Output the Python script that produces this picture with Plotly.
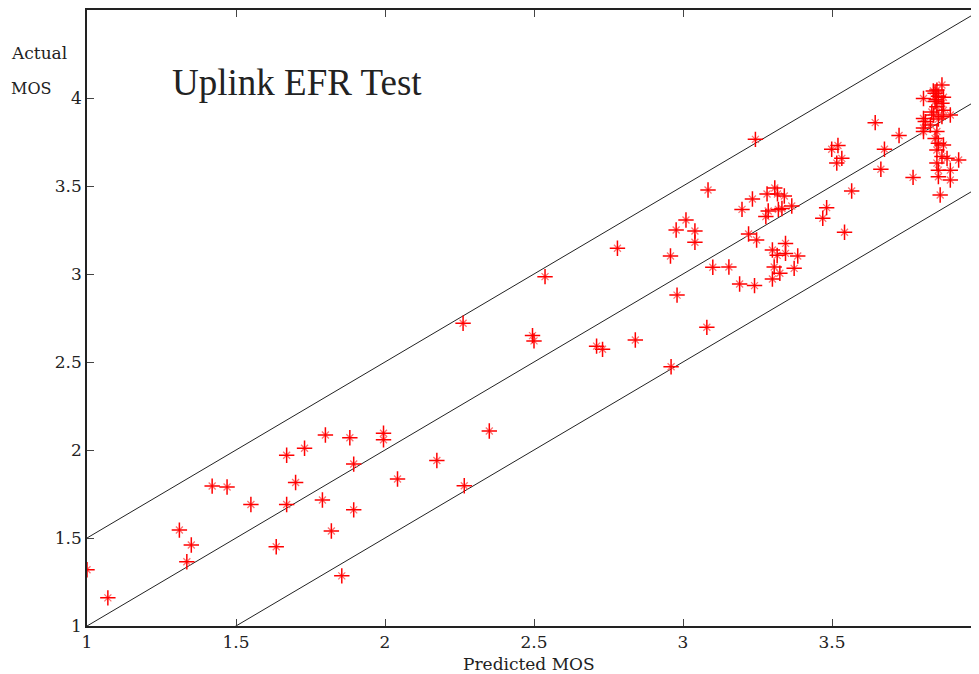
import plotly.graph_objects as go

# predicted vs actual MOS
predicted = [
    1.00, 1.07, 1.31, 1.35, 1.335, 1.42, 1.47, 1.55, 1.635, 1.67, 1.67, 1.70, 1.73,
    1.79, 1.80, 1.82, 1.855, 1.882, 1.895, 1.895, 1.995, 1.995, 2.042, 2.174, 2.266,
    2.35, 2.262, 2.495, 2.50, 2.537, 2.78, 2.71, 2.73, 2.84, 2.96, 2.958, 2.977,
    3.01, 3.04, 3.04, 2.98, 3.08, 3.10, 3.154, 3.19, 3.24, 3.22, 3.247, 3.243,
    3.084, 3.198, 3.233, 3.282, 3.308, 3.317, 3.34, 3.286, 3.278, 3.32, 3.332,
    3.365, 3.30, 3.344, 3.316, 3.344, 3.385, 3.306, 3.325, 3.30, 3.373, 3.482,
    3.469, 3.542, 3.566, 3.499, 3.52, 3.533, 3.516, 3.645, 3.725, 3.676, 3.664,
    3.772, 3.869, 3.852, 3.807, 3.846, 3.857, 3.874, 3.846, 3.869, 3.852, 3.874,
    3.807, 3.813, 3.841, 3.869, 3.897, 3.857, 3.83, 3.807, 3.852, 3.846, 3.857,
    3.874, 3.852, 3.869, 3.886, 3.925, 3.852, 3.897, 3.857, 3.857, 3.897, 3.863,
    3.807, 3.84, 3.85, 3.835,
]
actual = [
    1.32, 1.16, 1.545, 1.46, 1.365, 1.795, 1.79, 1.69, 1.45, 1.97, 1.69, 1.815, 2.01,
    1.716, 2.085, 1.54, 1.285, 2.07, 1.92, 1.66, 2.095, 2.058, 1.835, 1.94, 1.797,
    2.108, 2.72, 2.65, 2.62, 2.985, 3.146, 2.59, 2.572, 2.625, 2.473, 3.102, 3.25,
    3.307, 3.244, 3.18, 2.88, 2.697, 3.038, 3.04, 2.943, 2.934, 3.227, 3.193, 3.765,
    3.477, 3.367, 3.426, 3.455, 3.489, 3.455, 3.443, 3.358, 3.326, 3.367, 3.372,
    3.386, 3.136, 3.174, 3.106, 3.117, 3.102, 3.04, 3.004, 2.972, 3.032, 3.377,
    3.317, 3.237, 3.472, 3.709, 3.73, 3.657, 3.63, 3.86, 3.787, 3.709, 3.595,
    3.549, 4.074, 4.045, 3.997, 4.027, 4.01, 4.004, 3.98, 3.97, 3.95, 3.93,
    3.884, 3.866, 3.903, 3.894, 3.903, 3.88, 3.847, 3.81, 3.81, 3.77, 3.743,
    3.733, 3.705, 3.667, 3.657, 3.648, 3.63, 3.59, 3.59, 3.553, 3.534, 3.449,
    3.83, 4.04, 3.99, 3.92,
]

line_x = [1, 4]
offsets = [0.5, 0, -0.5]

x_ticks = [1, 1.5, 2, 2.5, 3, 3.5]
y_ticks = [1, 1.5, 2, 2.5, 3, 3.5, 4, 4.5]

INK = '#222222'

fig = go.Figure()
for off in offsets:
    fig.add_scatter(x=line_x, y=[v + off for v in line_x], mode='lines',
                    line=dict(color=INK, width=1), hoverinfo='skip')

# star marker = faint diagonal x under a bold plus
fig.add_scatter(x=predicted, y=actual, mode='markers', hoverinfo='skip',
                marker=dict(symbol='x-thin-open', size=7, color='#ff7070',
                            line=dict(color='#ff7070', width=1.3)))
fig.add_scatter(x=predicted, y=actual, mode='markers',
                marker=dict(symbol='cross-thin-open', size=11, color='red',
                            line=dict(color='red', width=1.5)))

def label(text, x, y, size, family='DejaVu Serif', anchor='left'):
    fig.add_annotation(text=text, x=x, y=y, xref='paper', yref='paper',
                       xanchor=anchor, yanchor='middle', showarrow=False,
                       font=dict(family=family, size=size, color=INK))

# page body adds an 8px offset, margins account for it
fig.update_layout(
    width=979, height=674, showlegend=False,
    plot_bgcolor='white', paper_bgcolor='white',
    margin=dict(l=79, r=6, t=2, b=56, autoexpand=False),
    font=dict(family='DejaVu Serif', size=17, color=INK),
)

label('Uplink EFR Test', 0.093, 0.883, 37, family='Liberation Serif')
label('Actual', -0.087, 0.930, 17)
label('MOS', -0.087, 0.872, 16)
label('Predicted MOS', 0.494, -0.062, 17, anchor='center')

fig.update_xaxes(range=[1, 4], tickvals=x_ticks, ticks='inside', ticklen=7,
                 showline=True, linecolor=INK, linewidth=1.5, mirror='ticks',
                 showgrid=False, zeroline=False, automargin=False)
fig.update_yaxes(range=[1, 4.5], tickvals=y_ticks, ticks='inside', ticklen=7,
                 showline=True, linecolor=INK, linewidth=1.5,
                 showgrid=False, zeroline=False, automargin=False)

fig.write_html("out.html")
